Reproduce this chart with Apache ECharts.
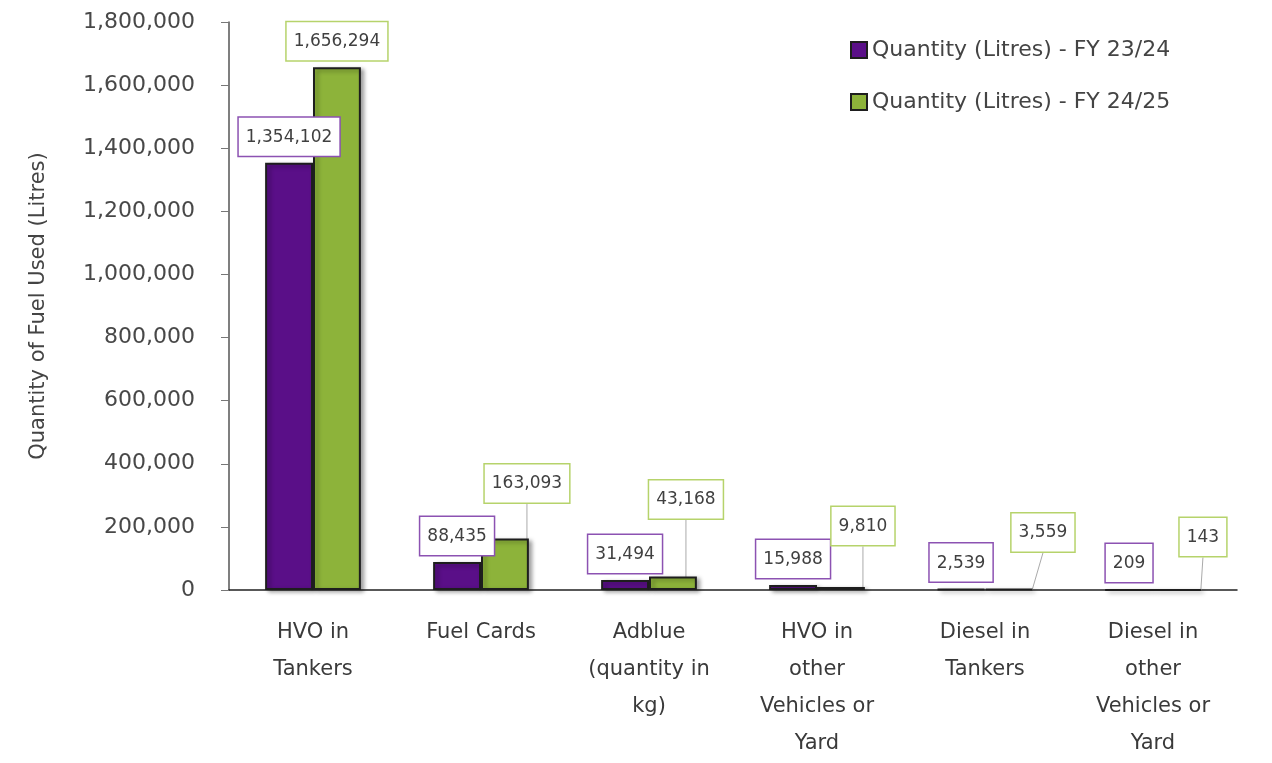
<!DOCTYPE html>
<html>
<head>
<meta charset="utf-8">
<script src="https://cdn.jsdelivr.net/npm/echarts@6/dist/echarts.min.js"></script>
<style>
  html, body { margin: 0; padding: 0; background: #fff; }
  #main { width: 1272px; height: 763px; }
</style>
</head>
<body>
<div id="main"></div>
<script>
// fuel use by type, two financial years
var categories = ['HVO in\nTankers', 'Fuel Cards', 'Adblue\n(quantity in\nkg)',
    'HVO in\nother\nVehicles or\nYard', 'Diesel in\nTankers', 'Diesel in\nother\nVehicles or\nYard'];
var fy2324 = [1354102, 88435, 31494, 15988, 2539, 209];
var fy2425 = [1656294, 163093, 43168, 9810, 3559, 143];
var seriesNames = ['Quantity (Litres) - FY 23/24', 'Quantity (Litres) - FY 24/25'];

// where the green labels were pushed to in the original (layout only)
var greenShift = [[0, 0], [22, -29], [13, -51], [22, -35], [34, -30], [26, -26]];

var FONT = 'DejaVu Sans';
var WEIGHT = 'normal';
var chart = echarts.init(document.getElementById('main'));

function fmt(v) { return Number(v).toLocaleString('en-US'); }

function labelBox(border) {
    return {
        show: true,
        position: 'top',
        distance: 7,
        formatter: function (p) { return fmt(p.value); },
        fontFamily: FONT,
        fontWeight: WEIGHT,
        fontSize: 17,
        color: '#404040',
        backgroundColor: '#fff',
        borderColor: border,
        borderWidth: 1.5,
        padding: [11, 7, 10, 7]
    };
}

var barStyle = {
    borderColor: '#1e1e1e',
    borderWidth: 2,
    shadowBlur: 4,
    shadowOffsetX: 3,
    shadowOffsetY: 2,
    shadowColor: 'rgba(0,0,0,0.35)'
};

option = {
    animation: false,
    backgroundColor: '#fff',
    textStyle: { fontFamily: FONT, fontWeight: WEIGHT },
    legend: {
        orient: 'vertical',
        left: 845,
        top: 34,
        itemWidth: 16,
        itemHeight: 16,
        itemGap: 30,
        icon: 'rect',
        textStyle: { fontSize: 22, color: '#444', fontFamily: FONT, fontWeight: WEIGHT },
        data: seriesNames
    },
    grid: { left: 229, right: 35, top: 22, bottom: 173, outerBoundsMode: 'none' },
    xAxis: {
        type: 'category',
        data: categories,
        axisLine: { lineStyle: { color: '#222', width: 1.5 } },
        axisTick: { show: false },
        axisLabel: {
            interval: 0,
            margin: 24,
            fontSize: 21,
            lineHeight: 37,
            color: '#3a3a3a',
            fontFamily: FONT,
            fontWeight: WEIGHT
        }
    },
    yAxis: {
        type: 'value',
        min: 0,
        max: 1800000,
        interval: 200000,
        name: 'Quantity of Fuel Used (Litres)',
        nameLocation: 'middle',
        nameGap: 180,
        nameTextStyle: { fontSize: 21, color: '#444', fontFamily: FONT, fontWeight: WEIGHT },
        axisLine: { show: true, lineStyle: { color: '#555', width: 1.5 } },
        axisTick: { show: true, length: 8, lineStyle: { color: '#777' } },
        splitLine: { show: false },
        axisLabel: {
            margin: 34,
            fontSize: 22,
            color: '#484848',
            fontFamily: FONT,
            fontWeight: WEIGHT,
            formatter: function (v) { return fmt(v); }
        }
    },
    series: [
        {
            name: seriesNames[0],
            type: 'bar',
            data: fy2324,
            barGap: '0%',
            barCategoryGap: '43%',
            itemStyle: Object.assign({ color: '#5a0f88' }, barStyle),
            label: labelBox('#8c52b2')
        },
        {
            name: seriesNames[1],
            type: 'bar',
            data: fy2425.map(function (v, i) {
                return i === 0 ? { value: v, labelLine: { show: false } } : v;
            }),
            barGap: '0%',
            barCategoryGap: '43%',
            itemStyle: Object.assign({ color: '#8db33a' }, barStyle),
            label: labelBox('#b6d36b'),
            labelLine: { show: true, lineStyle: { color: '#aaa', width: 1 } },
            labelLayout: function (p) {
                var s = greenShift[p.dataIndex] || [0, 0];
                return { dx: s[0], dy: s[1] };
            }
        }
    ]
};

chart.setOption(option);
</script>
</body>
</html>
